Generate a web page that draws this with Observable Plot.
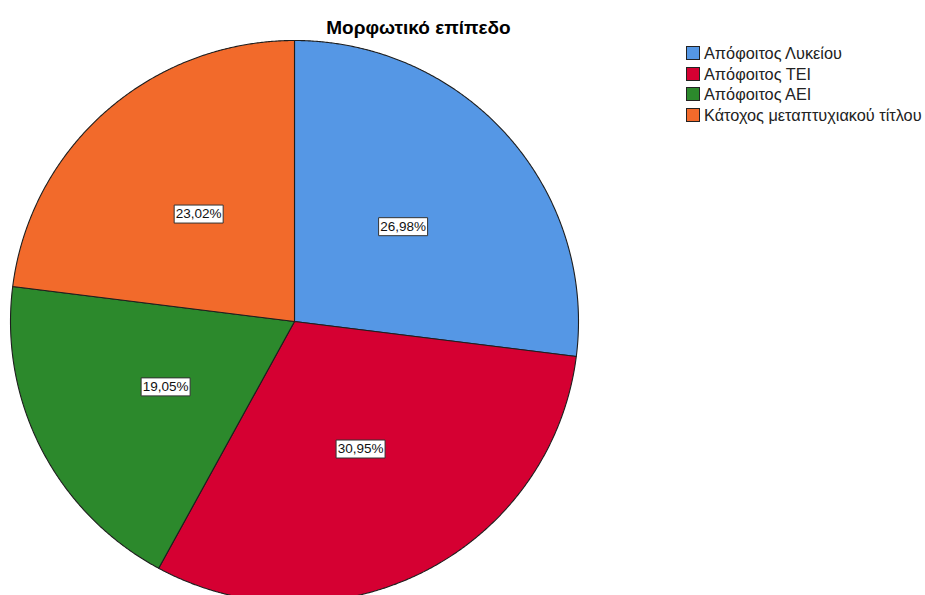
<!DOCTYPE html>
<html>
<head>
<meta charset="utf-8">
<script src="https://cdn.jsdelivr.net/npm/d3@7"></script>
<script src="https://cdn.jsdelivr.net/npm/@observablehq/plot@0.6"></script>
<style>
  html, body { margin: 0; padding: 0; background: #fff; }
  body { font-family: "Liberation Sans", Arial, sans-serif; }
  #wrap { position: relative; width: 925px; height: 595px; overflow: hidden; }
  #chart { position: absolute; left: 0; top: 0; }
  #title { position: absolute; left: 0; top: 17px; width: 837px; text-align: center;
           font-weight: bold; font-size: 19px; line-height: 22px; color: #000; }
  #legend { position: absolute; left: 686px; top: 43px; }
  .row { display: flex; align-items: center; height: 20.5px; }
  .sw { width: 12px; height: 12px; border: 1px solid #222; box-sizing: content-box; margin-right: 4px; flex: none; }
  .lab { font-size: 16.3px; line-height: 18px; color: #222; white-space: nowrap; }
</style>
</head>
<body>
<div id="wrap">
  <div id="chart"></div>
  <div id="title"></div>
  <div id="legend"></div>
</div>
<script>
const chartTitle = "Μορφωτικό επίπεδο";
const categories = ["Απόφοιτος Λυκείου", "Απόφοιτος ΤΕΙ", "Απόφοιτος ΑΕΙ", "Κάτοχος μεταπτυχιακού τίτλου"];
const counts = [34, 39, 24, 29];
const colors = ["#5597E5", "#D50032", "#2C892C", "#F26A2B"];

const total = d3.sum(counts);
const rows = categories.map((c, i) => ({category: c, count: counts[i]}));
const arcs = d3.pie().sort(null).value(d => d.count)(rows);

// slice outlines (polygon points in unit-circle data space)
const pts = [];
for (const a of arcs) {
  const c = a.data.category;
  pts.push({category: c, x: 0, y: 0});
  const n = Math.max(2, Math.ceil((a.endAngle - a.startAngle) / 0.005));
  for (let k = 0; k <= n; k++) {
    const t = a.startAngle + (a.endAngle - a.startAngle) * k / n;
    pts.push({category: c, x: Math.sin(t), y: Math.cos(t)});
  }
  pts.push({category: c, x: 0, y: 0});
}

const labelR = 0.51;
const labels = arcs.map(a => {
  const m = (a.startAngle + a.endAngle) / 2;
  return {
    x: labelR * Math.sin(m),
    y: labelR * Math.cos(m),
    text: (a.data.count / total * 100).toFixed(2).replace(".", ",") + "%"
  };
});

const boxSymbol = { draw(ctx) { ctx.rect(-24.5, -9, 49, 18); } };

const plot = Plot.plot({
  width: 925,
  height: 595,
  style: { background: "transparent", overflow: "visible" },
  x: { domain: [-1, 1], range: [10, 578], axis: null },
  y: { domain: [-1, 1], range: [602, 40], axis: null },
  color: { domain: categories, range: colors },
  marks: [
    Plot.line(pts, { x: "x", y: "y", z: "category", fill: "category", stroke: "#1e1e1e", strokeWidth: 1.1, curve: "linear", strokeLinejoin: "round" }),
    Plot.dot(labels, { x: "x", y: "y", symbol: boxSymbol, fill: "white", stroke: "#333", strokeWidth: 1 }),
    Plot.text(labels, { x: "x", y: "y", text: "text", fontSize: 13.5, fill: "#111", fontFamily: "Liberation Sans, Arial, sans-serif" })
  ]
});
document.getElementById("chart").appendChild(plot);
document.getElementById("title").textContent = chartTitle;

const leg = document.getElementById("legend");
categories.forEach((c, i) => {
  const r = document.createElement("div");
  r.className = "row";
  const s = document.createElement("div");
  s.className = "sw";
  s.style.background = colors[i];
  const t = document.createElement("span");
  t.className = "lab";
  t.textContent = c;
  r.appendChild(s); r.appendChild(t);
  leg.appendChild(r);
});
</script>
</body>
</html>
